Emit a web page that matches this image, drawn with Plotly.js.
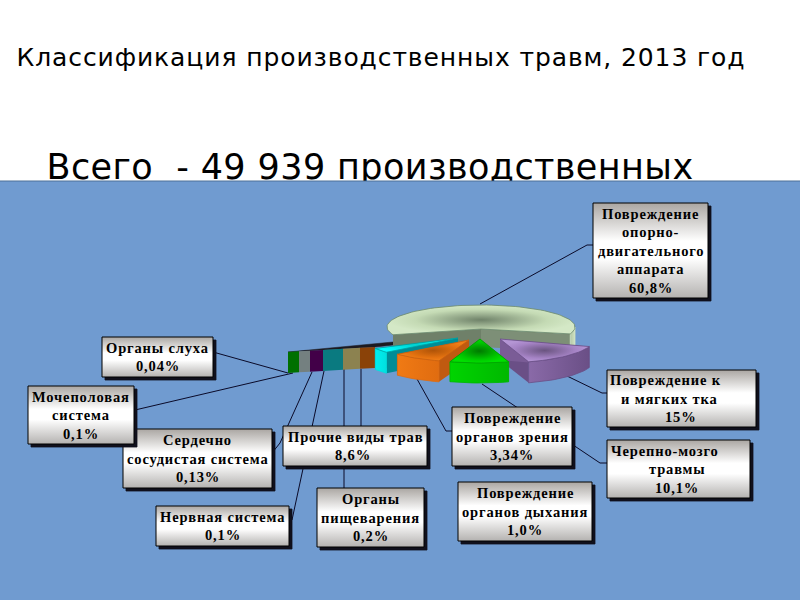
<!DOCTYPE html>
<html><head><meta charset="utf-8">
<script src="https://cdn.plot.ly/plotly-3.0.1.min.js"></script>
<style>html,body{margin:0;padding:0;background:#fff}#c{width:800px;height:600px}
.annotation-text{letter-spacing:0.85px}</style>
</head><body><div id="c"></div>
<script>
// ---------- data ----------
const chartTitle = 'Классификация производственных травм, 2013 год';
const subtitle = 'Всего  - 49 939 производственных';
const slicePercents = [60.8, 15, 10.1, 8.6, 3.34];     // large wedges, clockwise from main
const sliverDrawnWidths = [15, 17, 20, 13, 11, 11];    // tiny wedges, as wide as they appear, right to left
const labelNames = [
  ['Сердечно','сосудистая система'],
  ['Мочеполовая','система'],
  ['Органы слуха'],
  ['Нервная система'],
  ['Прочие виды трав'],
  ['Органы','пищеварения'],
  ['Повреждение','органов зрения'],
  ['Повреждение','органов дыхания'],
  ['Повреждение','опорно-','двигательного','аппарата'],
  ['Повреждение к','и мягких тка'],
  ['Черепно-мозго','травмы']
];
const labelValues = ['0,13%','0,1%','0,04%','0,1%','8,6%','0,2%','3,34%','1,0%','60,8%','15%','10,1%'];

// ---------- layout geometry ----------
const boxes = [[123,429,272,488],[28,386,134,444],[102,337,213,377],[156,506,289,546],[283,426,427,466],
  [317,488,424,547],[452,407,572,466],[458,482,592,541],[593,203,708,298],[607,370,756,427],[607,440,750,498]];
const lineCenters = {9:[665,669,681],10:[665,677,677],4:[355,353]};
const leaders = [
  [[480,304],[587,245],[593,245]],
  [[567,376],[602,393],[607,393]],
  [[482,384],[600,463],[607,463]],
  [[417,379],[446,431],[452,431]],
  [[344,369],[344,488]],
  [[361,369],[361,426]],
  [[312,372],[280,443],[272,453]],
  [[324,371],[292,520],[289,520]],
  [[213,352],[288,373]],
  [[135,410],[293,373]]
];
const wedgeStyles = [
  {ax:481,ay:329,cx:481,cy:327,rx:94,ry:22,d:18,
   top:['#d4e8c6','#c4dab4','#6f8269'],wall:['#b4c8a6','#d0e2c2'],faceA:'#6f8069',faceB:'#7d8f77',line:'#6d8a6a'},
  {ax:500,ay:339,cx:500,cy:339,rx:94,ry:24,d:21,
   top:['#b495d4','#a684c6','#6a5480'],wall:['#8a6aa8','#6a4f86'],faceA:'#7a5c96',faceB:'#6a4f86',line:'#6a4f86'},
  {ax:480,ay:339,cx:480,cy:339,rx:94,ry:24,d:20,
   top:['#00e000','#00c800','#007a00'],wall:['#00d400','#00b800'],faceA:'#00a000',faceB:'#00a000',line:'#00a000'},
  {ax:469,ay:340,cx:469,cy:340,rx:94,ry:22,d:21,
   top:['#f08018','#e47210','#b05408'],wall:['#f07a14','#e06c10'],faceA:'#c05a10',faceB:'#c05a10',line:'#c86010'},
  {ax:458,ay:338,cx:458,cy:338,rx:94,ry:22,d:21,
   top:['#00ffff','#00f0f0','#00d0d0'],wall:['#00eeee','#00e0e0'],faceA:'#008c96',faceB:'#008c96',line:'#00a0a0'}
];
const sliverColors = ['#8a4208','#8c8250','#0a7a80','#420048','#748080','#007000'];
const stripTop = {x0:375,y0:347,x1:288,y1:352};
const stripDepth = 21;

// ---------- drawing ----------
const traces = [];
function poly(pts, o) {
  o = o || {};
  const t = {x:pts.map(p=>p[0]).concat(pts[0][0]), y:pts.map(p=>p[1]).concat(pts[0][1]),
    mode:'lines', fill:'toself', fillcolor:o.fill||'rgba(0,0,0,0)',
    line:{color:o.line||'rgba(0,0,0,0)', width:o.width===undefined?0.8:o.width},
    hoverinfo:'skip', showlegend:false};
  if (o.grad) t.fillgradient = o.grad;
  traces.push(t);
}
function stops(c){const n=c.length-1;return c.map((v,i)=>[i/n,v]);}

// text that the blue panel cuts through goes first
traces.push({x:[370],y:[170],mode:'text',text:[subtitle],textposition:'middle center',
  textfont:{family:'DejaVu Sans',size:35,color:'#000'},hoverinfo:'skip',showlegend:false});
traces.push({x:[381],y:[60],mode:'text',text:[chartTitle],textposition:'middle center',
  textfont:{family:'DejaVu Sans',size:25,color:'#000'},hoverinfo:'skip',showlegend:false});

// panel
poly([[-5,181],[805,181],[805,605],[-5,605]],{fill:'#709bd0',line:'#4d7097',width:1});

// leader lines
leaders.forEach(l=>traces.push({x:l.map(p=>p[0]),y:l.map(p=>p[1]),mode:'lines',
  line:{color:'#0a0a28',width:1},hoverinfo:'skip',showlegend:false}));

function pt(s,a,dy){const r=a*Math.PI/180;return [s.cx+s.rx*Math.sin(r), s.cy-s.ry*Math.cos(r)+(dy||0)];}
function arc(s,a0,a1,dy){const p=[];const n=Math.max(2,Math.ceil(Math.abs(a1-a0)/3));
  for(let i=0;i<=n;i++)p.push(pt(s,a0+(a1-a0)*i/n,dy));return p;}
function wedge(s,a0,a1){
  const A=[s.ax,s.ay], dn=p=>[p[0],p[1]+s.d];
  const c0=pt(s,a0), c1=pt(s,a1);
  poly([A,c1,dn(c1),dn(A)],{fill:s.faceB});
  poly([A,c0,dn(c0),dn(A)],{fill:s.faceA});
  for (const [lo,hi] of [[90,270],[450,630]]) {
    const u0=Math.max(a0,lo), u1=Math.min(a1,hi);
    if (u1>u0) {
      const front=arc(s,u0,u1), back=front.map(dn).reverse();
      poly(front.concat(back),{grad:{type:'horizontal',colorscale:stops(s.wall)},line:s.wall[1]});
    }
  }
  const top=[A].concat(arc(s,a0,a1));
  poly(top,{grad:{type:'radial',colorscale:[[0,s.top[2]],[0.7,s.top[1]],[1,s.top[0]]]},line:s.line});
}
const wedges=[];
let ang=-110.6;
slicePercents.forEach((v,i)=>{const sw=v*3.6; wedges.push([wedgeStyles[i],ang,ang+sw]); ang+=sw;});

// sliver strip, left to right, behind the pulled wedges
(function(){
  const total=sliverDrawnWidths.reduce((a,b)=>a+b,0);
  const yAt=x=>stripTop.y0+(stripTop.y1-stripTop.y0)*(x-stripTop.x0)/(stripTop.x1-stripTop.x0);
  poly([[stripTop.x1,yAt(stripTop.x1)],[stripTop.x0,yAt(stripTop.x0)],[458,338],[440,337.5]],{fill:'#1c1a20',line:'#1c1a20',width:0.5});
  let x=stripTop.x0;
  sliverDrawnWidths.forEach((w,i)=>{
    const xa=x, xb=x-w*(stripTop.x0-stripTop.x1)/total;
    poly([[xa,yAt(xa)],[xb,yAt(xb)],[xb,yAt(xb)+stripDepth],[xa,yAt(xa)+stripDepth]],{fill:sliverColors[i]});
    x=xb;
  });
})();
// painter's order: main, cyan, orange, purple, green
[wedges[0],wedges[4],wedges[3],wedges[1],wedges[2]].forEach(w=>wedge(w[0],w[1],w[2]));

// label boxes
const annotations=[];
boxes.forEach((b,i)=>{
  const [x0,y0,x1,y1]=b;
  poly([[x0+3,y0+3],[x1+3,y0+3],[x1+3,y1+3],[x0+3,y1+3]],{fill:'#10101c',line:'#10101c'});
  poly([[x0,y0],[x1,y0],[x1,y1],[x0,y1]],{line:'#000',width:1,
    grad:{type:'vertical',colorscale:[[0,'#b4b2b0'],[0.42,'#ffffff'],[0.6,'#ffffff'],[1,'#aaa6a2']]}});
  const lines=labelNames[i].concat(labelValues[i]);
  const cy=(y0+y1)/2;
  lines.forEach((t,k)=>{
    const xc=lineCenters[i]?lineCenters[i][k]:(x0+x1)/2;
    annotations.push({x:xc,y:cy+(k-(lines.length-1)/2)*18.5,xref:'x',yref:'y',text:t,showarrow:false,
      xanchor:'center',yanchor:'middle',font:{family:'Liberation Serif',size:14.5,color:'#000',weight:700}});
  });
});

Plotly.newPlot('c',traces,{
  width:800,height:600,margin:{l:0,r:0,t:0,b:0},paper_bgcolor:'#fff',plot_bgcolor:'#fff',
  xaxis:{range:[0,800],visible:false,fixedrange:true},
  yaxis:{range:[600,0],visible:false,fixedrange:true},
  showlegend:false,annotations:annotations
},{displayModeBar:false,staticPlot:true}).then(gd=>{
  const sp=[0.4,0.9];
  gd.querySelectorAll('.textpoint text').forEach((el,i)=>{el.style.letterSpacing=sp[i]+'px';});
});
</script></body></html>
